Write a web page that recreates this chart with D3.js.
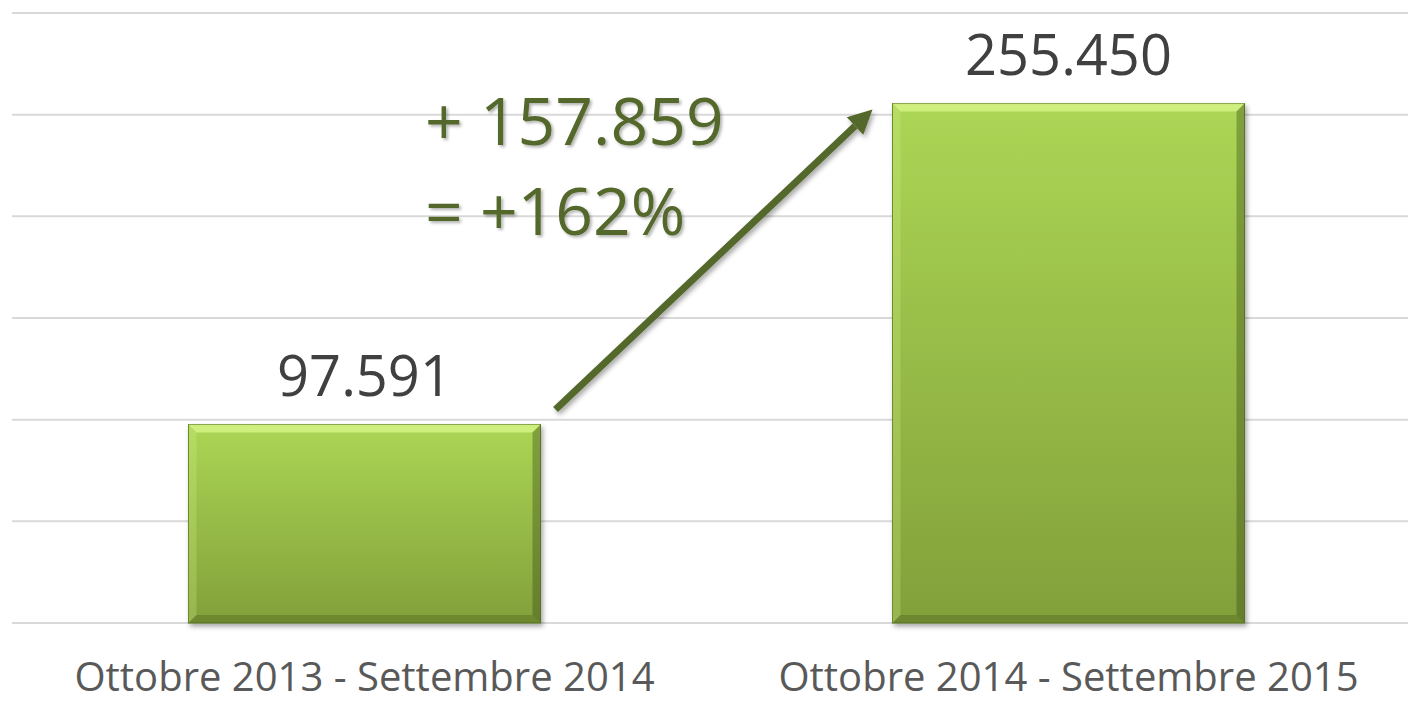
<!DOCTYPE html>
<html>
<head>
<meta charset="utf-8">
<script src="https://cdn.jsdelivr.net/npm/d3@7"></script>
<style>
  body { margin: 0; background: #fff; }
  text { font-family: "Open Sans", "Noto Sans", sans-serif; }
</style>
</head>
<body>
<div id="chart"></div>
<script>
// data
const categories = ["Ottobre 2013 - Settembre 2014", "Ottobre 2014 - Settembre 2015"];
const values = [97591, 255450];
const valueLabels = ["97.591", "255.450"];
const gridTicks = [0, 50000, 100000, 150000, 200000, 250000, 300000];
const annotationLines = ["+ 157.859", "= +162%"];

const width = 1408, height = 704;

const svg = d3.select("#chart").append("svg")
  .attr("width", width)
  .attr("height", height);

const x = d3.scaleBand()
  .domain(categories)
  .range([12.5, 1420.5])
  .paddingInner(0.5)
  .paddingOuter(0.25);

const y = d3.scaleLinear()
  .domain([0, 300000])
  .range([623, 13]);

const defs = svg.append("defs");

const grad = defs.append("linearGradient")
  .attr("id", "barGrad")
  .attr("x1", 0).attr("y1", 0).attr("x2", 0).attr("y2", 1);
grad.append("stop").attr("offset", "0%").attr("stop-color", "#acd655");
grad.append("stop").attr("offset", "100%").attr("stop-color", "#82a03a");

const shadow = defs.append("filter").attr("id", "shadow")
  .attr("x", "-10%").attr("y", "-10%").attr("width", "130%").attr("height", "130%");
shadow.append("feDropShadow")
  .attr("dx", 2).attr("dy", 3).attr("stdDeviation", 2.5)
  .attr("flood-color", "#000").attr("flood-opacity", 0.35);

const txtShadow = defs.append("filter").attr("id", "txtShadow")
  .attr("x", "-10%").attr("y", "-20%").attr("width", "130%").attr("height", "150%");
txtShadow.append("feDropShadow")
  .attr("dx", 2).attr("dy", 2).attr("stdDeviation", 1.5)
  .attr("flood-color", "#000").attr("flood-opacity", 0.3);

// gridlines
svg.append("g")
  .selectAll("line")
  .data(gridTicks)
  .join("line")
  .attr("x1", 12)
  .attr("x2", width)
  .attr("y1", d => y(d))
  .attr("y2", d => y(d))
  .attr("stroke", "#d9d9d9")
  .attr("stroke-width", 2);

// bars
const bars = svg.append("g")
  .selectAll("g")
  .data(values)
  .join("g");

bars.append("rect")
  .attr("x", (d, i) => x(categories[i]))
  .attr("y", d => y(d))
  .attr("width", x.bandwidth())
  .attr("height", d => y(0) - y(d))
  .attr("fill", "url(#barGrad)")
  .attr("stroke", "#5f7d26")
  .attr("stroke-width", 1)
  .attr("filter", "url(#shadow)");

// bevel edges
const b = 8;
function bevel(d, i, side) {
  const x0 = x(categories[i]), x1 = x0 + x.bandwidth();
  const y0 = y(d), y1 = y(0);
  if (side == "top") return [[x0, y0], [x1, y0], [x1 - b, y0 + b], [x0 + b, y0 + b]];
  if (side == "left") return [[x0, y0], [x0 + b, y0 + b], [x0 + b, y1 - b], [x0, y1]];
  if (side == "right") return [[x1, y0], [x1, y1], [x1 - b, y1 - b], [x1 - b, y0 + b]];
  return [[x0, y1], [x0 + b, y1 - b], [x1 - b, y1 - b], [x1, y1]];
}
const sides = [
  { side: "top", fill: "#e6ff9a", op: 0.6 },
  { side: "left", fill: "#d8f58a", op: 0.25 },
  { side: "right", fill: "#2f4010", op: 0.35 },
  { side: "bottom", fill: "#2f4010", op: 0.25 }
];
sides.forEach(s => {
  bars.append("polygon")
    .attr("points", (d, i) => bevel(d, i, s.side).join(" "))
    .attr("fill", s.fill)
    .attr("fill-opacity", s.op);
});

// value labels
svg.append("g")
  .selectAll("text")
  .data(values)
  .join("text")
  .attr("x", (d, i) => x(categories[i]) + x.bandwidth() / 2)
  .attr("y", d => y(d) - 29)
  .attr("text-anchor", "middle")
  .attr("font-size", 56)
  .attr("fill", "#404040")
  .text((d, i) => valueLabels[i]);

// category labels
svg.append("g")
  .selectAll("text")
  .data(categories)
  .join("text")
  .attr("x", d => x(d) + x.bandwidth() / 2)
  .attr("y", 691)
  .attr("text-anchor", "middle")
  .attr("font-size", 40)
  .attr("fill", "#595959")
  .text(d => d);

// arrow from bar 1 to bar 2
const green = "#53682a";
const ax0 = x(categories[0]) + x.bandwidth() + 15, ay0 = y(values[0]) - 15;
const ax1 = x(categories[1]) - 20, ay1 = y(values[1]) + 6;
const ang = Math.atan2(ay1 - ay0, ax1 - ax0);
const headLen = 24, headW = 12;
const bx = ax1 - headLen * Math.cos(ang), by = ay1 - headLen * Math.sin(ang);
const arrow = svg.append("g").attr("filter", "url(#shadow)");
arrow.append("line")
  .attr("x1", ax0).attr("y1", ay0)
  .attr("x2", bx).attr("y2", by)
  .attr("stroke", green)
  .attr("stroke-width", 7);
arrow.append("path")
  .attr("d", d3.line()([
    [ax1, ay1],
    [bx + headW * Math.sin(ang), by - headW * Math.cos(ang)],
    [bx - headW * Math.sin(ang), by + headW * Math.cos(ang)]
  ]) + "Z")
  .attr("fill", green);

// annotation
svg.append("g")
  .attr("filter", "url(#txtShadow)")
  .selectAll("text")
  .data(annotationLines)
  .join("text")
  .attr("x", 425)
  .attr("y", (d, i) => 145 + i * 90)
  .attr("font-size", 66)
  .attr("fill", green)
  .text(d => d);
</script>
</body>
</html>
